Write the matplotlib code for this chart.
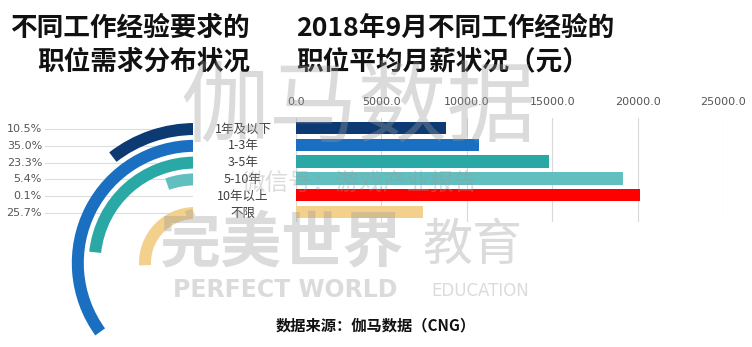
import matplotlib.pyplot as plt
from matplotlib.patches import Wedge, Rectangle

plt.rcParams['font.family'] = ['Noto Sans CJK SC', 'DejaVu Sans']

categories = ['1年及以下', '1-3年', '3-5年', '5-10年', '10年以上', '不限']
share_pct = [10.5, 35.0, 23.3, 5.4, 0.1, 25.7]
avg_salary = [8800, 10700, 14800, 19150, 20150, 7450]
colors = ['#0d3a73', '#1a6fc0', '#2aa8a6', '#62bfc0', '#ff0000', '#f3d08c']
salary_ticks = [0, 5000, 10000, 15000, 20000, 25000]

W, H = 752, 347
fig = plt.figure(figsize=(W / 100, H / 100), dpi=100)
fig.patch.set_facecolor('white')

# left panel works in pixel-like units (origin bottom-left of figure)
ax1 = fig.add_axes([0, 0, 300 / W, 1])
ax1.set_xlim(0, 300)
ax1.set_ylim(0, H)
ax1.set_aspect('equal')
ax1.axis('off')

cx, cy = 195, H - 263
row_y = [H - (129 + i * 16.8) for i in range(len(categories))]
for i, (pct, col) in enumerate(zip(share_pct, colors)):
    r = 134 - i * 16.8  # radius of this ring
    ax1.plot([45, cx], [row_y[i]] * 2, color='#dcdcdc', lw=0.8, zorder=1)
    ax1.add_patch(Wedge((cx, cy), r + 6, 90, 90 + pct * 3.6, width=12,
                        facecolor=col, edgecolor='none', zorder=2))
    ax1.text(42, row_y[i], f'{pct:.1f}%', ha='right', va='center',
             fontsize=8, color='#555555', family=['DejaVu Sans'])

# label column between the two panels
ax1.add_patch(Rectangle((193, H - 222), 100, 102, facecolor='white',
                        edgecolor='none', zorder=3))
for i, lab in enumerate(categories):
    ax1.text(243, row_y[i], lab, ha='center', va='center', fontsize=9,
             color='#404040', zorder=4)

# right panel: average monthly salary bars
ax2 = fig.add_axes([296 / W, (H - 222) / H, 427 / W, 104 / H])
ypos = list(range(len(categories)))
ax2.barh(ypos, avg_salary, height=0.75, color=colors, zorder=2)
ax2.set_xlim(0, 25000)
ax2.set_ylim(5.6, -0.6)
ax2.set_xticks(salary_ticks)
ax2.set_xticklabels([f'{t:.1f}' for t in salary_ticks])
ax2.xaxis.tick_top()
ax2.tick_params(axis='x', length=0, labelsize=8, labelcolor='#555555', pad=8)
ax2.set_yticks([])
for s in ax2.spines.values():
    s.set_visible(False)
ax2.grid(axis='x', color='#d9d9d9', lw=0.8, zorder=0)
ax2.set_facecolor('none')
for lbl in ax2.get_xticklabels():
    lbl.set_family(['DejaVu Sans'])

# titles
tkw = dict(fontsize=19.2, fontweight='bold', color='#111111', va='center')
fig.text(250 / W, 1 - 28 / H, '不同工作经验要求的', ha='right', **tkw)
fig.text(250 / W, 1 - 62 / H, '职位需求分布状况', ha='right', **tkw)
fig.text(296 / W, 1 - 28 / H, '2018年9月不同工作经验的', ha='left', **tkw)
fig.text(296 / W, 1 - 62 / H, '职位平均月薪状况（元）', ha='left', **tkw)

fig.text(376 / W, 1 - 325 / H, '数据来源：伽马数据（CNG）', ha='center',
         va='center', fontsize=11, fontweight='bold', color='#111111')

# watermarks
wm = dict(color='#9a9a9a', alpha=0.35, ha='center', va='center', zorder=10)
fig.text(358 / W, 1 - 110 / H, '伽马数据', fontsize=64, **wm)
fig.text(360 / W, 1 - 183 / H, '微信号：游戏产业报告', fontsize=17, **wm)
fig.text(282 / W, 1 - 245 / H, '完美世界', fontsize=44, fontweight='bold', **wm)
fig.text(472 / W, 1 - 246 / H, '教育', fontsize=36, **wm)
fig.text(285 / W, 1 - 290 / H, 'PERFECT WORLD', fontsize=17, fontweight='bold',
         family=['DejaVu Sans'], **wm)
fig.text(480 / W, 1 - 291 / H, 'EDUCATION', fontsize=12, family=['DejaVu Sans'], **wm)

fig.savefig('out.png', dpi=100)
